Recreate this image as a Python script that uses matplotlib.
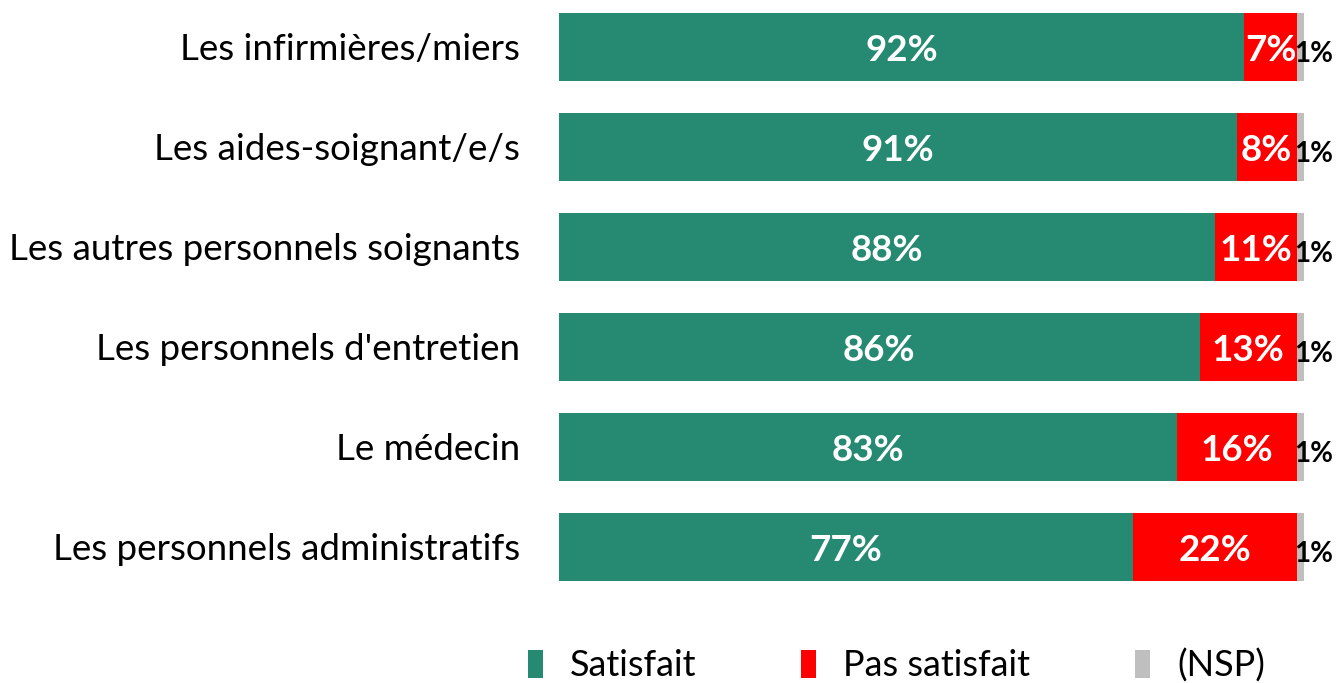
import numpy as np
import matplotlib.pyplot as plt

plt.rcParams['font.family'] = ['Lato', 'DejaVu Sans']

categories = ["Les infirmières/miers", "Les aides-soignant/e/s",
              "Les autres personnels soignants", "Les personnels d'entretien",
              "Le médecin", "Les personnels administratifs"]
satisfait = [92, 91, 88, 86, 83, 77]
pas_satisfait = [7, 8, 11, 13, 16, 22]
nsp = [1, 1, 1, 1, 1, 1]

green = "#268A72"
red = "#FF0000"
grey = "#BFBFBF"


def main():
    fig = plt.figure(figsize=(13.36, 6.83), dpi=100)
    ax = fig.add_axes([559 / 1336, 90 / 683, 745 / 1336, 593 / 683])
    y = np.arange(len(categories))
    sat = np.array(satisfait)
    pas = np.array(pas_satisfait)
    ns = np.array(nsp)
    h = 0.68

    ax.barh(y, sat, height=h, color=green, label="Satisfait")
    ax.barh(y, pas, left=sat, height=h, color=red, label="Pas satisfait")
    ax.barh(y, ns, left=sat + pas, height=h, color=grey, label="(NSP)")

    for i in range(len(categories)):
        ax.text(sat[i] / 2, y[i] + 0.04, f"{sat[i]}%", ha="center", va="center",
                color="white", fontsize=26.5, fontweight="bold")
        ax.text(sat[i] + pas[i] / 2, y[i] + 0.04, f"{pas[i]}%", ha="center", va="center",
                color="white", fontsize=26.5, fontweight="bold")
        ax.text(sat[i] + pas[i] + ns[i] + 1.3, y[i] + 0.08, f"{ns[i]}%", ha="center",
                va="center", color="black", fontsize=20, fontweight="bold")

    ax.set_xlim(0, 100)
    ax.set_ylim(len(categories) - 1 + 0.465, -0.465)
    ax.set_yticks(y)
    ax.set_yticklabels(categories, fontsize=26.5)
    ax.tick_params(axis="y", length=0, pad=28)
    ax.set_xticks([])
    for s in ax.spines.values():
        s.set_visible(False)

    fig.legend(loc="center", bbox_to_anchor=(0.671, 0.026), ncol=3, frameon=False,
               fontsize=26, handlelength=0.42, handleheight=0.8, handletextpad=0.75,
               columnspacing=2.9)

    fig.savefig("out.png", dpi=100)


if __name__ == "__main__":
    main()
